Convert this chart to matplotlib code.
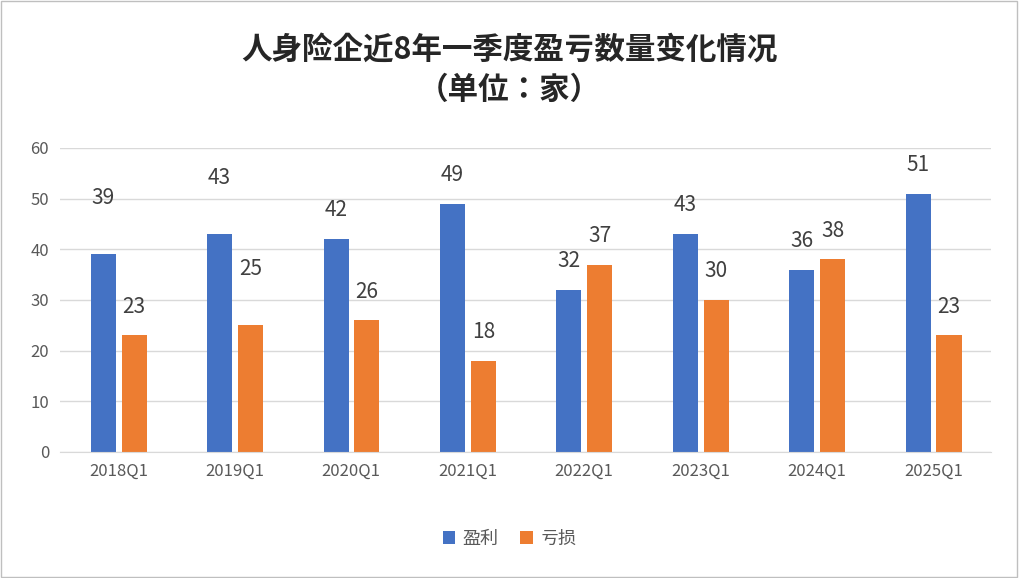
import numpy as np
import matplotlib.pyplot as plt
from matplotlib.patches import Rectangle

plt.rcParams['font.family'] = ['Noto Sans CJK SC', 'Noto Sans CJK JP', 'DejaVu Sans']

quarters = ['2018Q1', '2019Q1', '2020Q1', '2021Q1', '2022Q1', '2023Q1', '2024Q1', '2025Q1']
profit = [39, 43, 42, 49, 32, 43, 36, 51]
loss = [23, 25, 26, 18, 37, 30, 38, 23]

fig = plt.figure(figsize=(10.19, 5.78), dpi=100)
fig.patches.append(Rectangle((0.001, 0.002), 0.997, 0.996, transform=fig.transFigure,
                             fill=False, edgecolor='#bfbfbf', linewidth=1))
ax = fig.add_axes([0.059, 0.218, 0.914, 0.526])

x = np.arange(len(quarters))
w = 0.215
b1 = ax.bar(x - 0.13, profit, w, color='#4472C4', label='盈利')
b2 = ax.bar(x + 0.135, loss, w, color='#ED7D31', label='亏损')
# some labels in the reference sit higher above their bars
raised = {(0, 0), (1, 0), (1, 1)}
for k, bars in enumerate((b1, b2)):
    for i, r in enumerate(bars):
        off = 9 if (i, k) in raised else 3.5
        ax.text(r.get_x() + r.get_width() / 2, r.get_height() + off, f'{int(r.get_height())}',
                ha='center', va='bottom', fontsize=15, color='#404040')

ax.set_ylim(0, 60)
ax.set_xlim(-0.5, len(quarters) - 0.5)
ax.set_yticks(range(0, 61, 10))
ax.set_xticks(x)
ax.set_xticklabels(quarters)
ax.tick_params(axis='both', length=0, labelsize=12, labelcolor='#595959', pad=8)
ax.grid(axis='y', color='#d9d9d9', linewidth=1)
ax.set_axisbelow(True)
for s in ['top', 'right', 'left']:
    ax.spines[s].set_visible(False)
ax.spines['bottom'].set_color('#d9d9d9')

fig.text(0.5, 0.915, '人身险企近8年一季度盈亏数量变化情况', ha='center', va='center',
         fontsize=22, fontweight='bold', color='#262626')
fig.text(0.5, 0.845, '（单位：家）', ha='center', va='center',
         fontsize=22, fontweight='bold', color='#262626')

fig.legend(handles=[b1, b2], loc='center', bbox_to_anchor=(0.5, 0.068), ncol=2,
           frameon=False, fontsize=13, handlelength=0.7, handleheight=0.7,
           columnspacing=1.2, handletextpad=0.4, labelcolor='#595959')

fig.savefig('out.png', dpi=100)
